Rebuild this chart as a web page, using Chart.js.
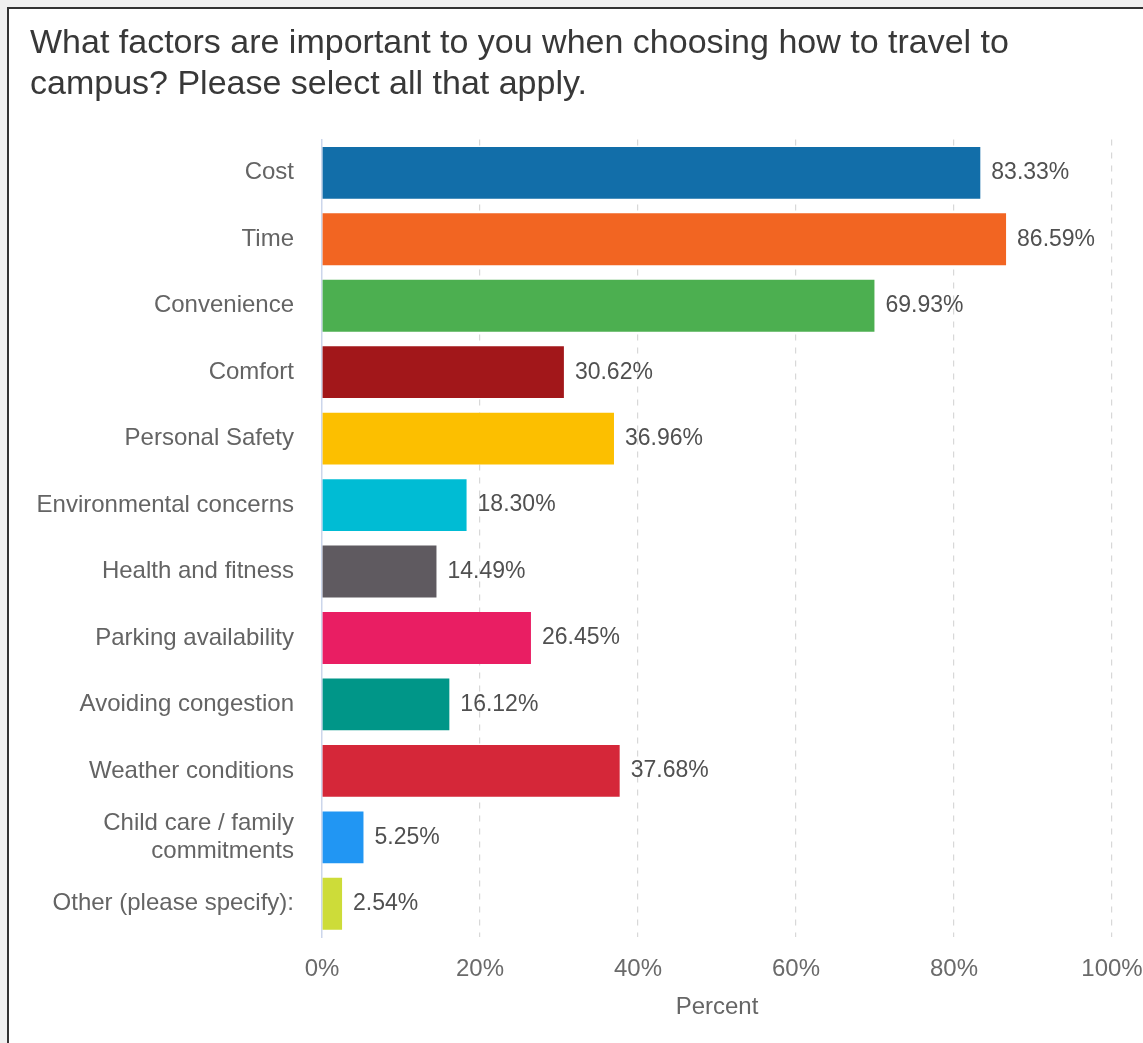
<!DOCTYPE html>
<html>
<head>
<meta charset="utf-8">
<title>Travel to campus factors</title>
<script src="https://cdn.jsdelivr.net/npm/chart.js@4.4.1/dist/chart.umd.min.js"></script>
<style>
  html, body { margin: 0; padding: 0; background: #f0f0f0; overflow: hidden; }
  #frame {
    position: absolute; left: 7px; top: 7px; width: 1200px; height: 1100px;
    background: #fff; border: 2px solid #333;
  }
  #chart { position: absolute; left: 0; top: 0; }
</style>
</head>
<body>
<div id="frame"></div>
<canvas id="chart" width="1143" height="1043"></canvas>
<script>
const factors = [
    'Cost', 'Time', 'Convenience', 'Comfort', 'Personal Safety',
    'Environmental concerns', 'Health and fitness', 'Parking availability',
    'Avoiding congestion', 'Weather conditions',
    ['Child care / family', 'commitments'], 'Other (please specify):'
];
const percents = [83.33, 86.59, 69.93, 30.62, 36.96, 18.30, 14.49, 26.45, 16.12, 37.68, 5.25, 2.54];
const barColors = [
    '#126ea9', '#f26522', '#4caf50', '#a2171a', '#fcbf00', '#00bcd4',
    '#5f5a60', '#e91e63', '#009688', '#d52739', '#2196f3', '#cddc39'
];
const percentTicks = [0, 20, 40, 60, 80, 100];

const FONT = '"Liberation Sans", Arial, Helvetica, sans-serif';

// Writes the percentage next to the end of each bar
const valueLabels = {
    id: 'valueLabels',
    afterDatasetsDraw(chart) {
        const ctx = chart.ctx;
        const meta = chart.getDatasetMeta(0);
        ctx.save();
        ctx.font = '23px ' + FONT;
        ctx.fillStyle = '#505050';
        ctx.textAlign = 'left';
        ctx.textBaseline = 'middle';
        meta.data.forEach((bar, i) => {
            ctx.fillText(percents[i].toFixed(2) + '%', bar.x + 11, bar.y);
        });
        ctx.restore();
    }
};

new Chart(document.getElementById('chart').getContext('2d'), {
    type: 'bar',
    data: {
        labels: factors,
        datasets: [{
            data: percents,
            backgroundColor: barColors,
            borderWidth: 0,
            barPercentage: 0.78,
            categoryPercentage: 1
        }]
    },
    options: {
        indexAxis: 'y',
        responsive: false,
        animation: false,
        layout: { padding: { left: 30, right: 0, top: 0, bottom: 0 } },
        plugins: {
            legend: { display: false },
            tooltip: { enabled: false },
            title: {
                display: true,
                align: 'start',
                text: ['What factors are important to you when choosing how to travel to',
                       'campus? Please select all that apply.'],
                color: '#383838',
                font: { family: FONT, size: 34, weight: 'normal', lineHeight: 1.2 },
                padding: { top: 23, bottom: 35 }
            }
        },
        scales: {
            x: {
                min: 0,
                max: 100,
                afterBuildTicks(scale) {
                    scale.ticks = percentTicks.map(v => ({ value: v }));
                },
                afterFit(scale) {
                    scale.height = 106;
                    // leave room only for half of the "100%" label
                    scale.paddingLeft = 0;
                    scale.paddingRight = 31;
                },
                border: { display: false, dash: [6, 7] },
                grid: {
                    drawTicks: false,
                    color: ctx => ctx.index === 0 ? 'rgba(0,0,0,0)' : '#d8d8d8',
                    lineWidth: 1.2
                },
                ticks: {
                    padding: 18,
                    color: '#6a6a6a',
                    font: { family: FONT, size: 24 },
                    callback: v => v + '%'
                },
                title: {
                    display: true,
                    text: 'Percent',
                    color: '#666',
                    font: { family: FONT, size: 24 },
                    padding: { top: 0, bottom: 21 }
                }
            },
            y: {
                afterFit(scale) { scale.width = 292; },
                border: { display: true, color: '#ccd6eb', width: 1.5 },
                grid: { display: false, drawTicks: false },
                ticks: {
                    padding: 28,
                    color: '#646464',
                    font: { family: FONT, size: 24, lineHeight: 1.2 }
                }
            }
        }
    },
    plugins: [valueLabels]
});
</script>
</body>
</html>
